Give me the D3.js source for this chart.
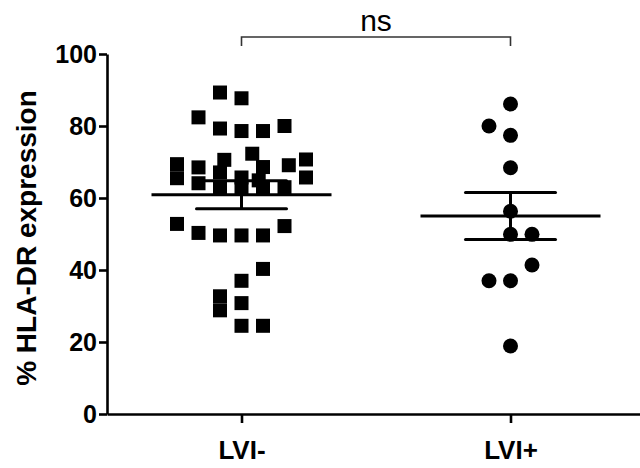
<!DOCTYPE html>
<html>
<head>
<meta charset="utf-8">
<script src="https://cdn.jsdelivr.net/npm/d3@7"></script>
<style>
  body { margin: 0; background: #fff; }
  text { font-family: "Liberation Sans", Arial, sans-serif; }
</style>
</head>
<body>
<div id="graph"></div>
<script>
// data
var groups = ["LVI-", "LVI+"];
var yTicks = [0, 20, 40, 60, 80, 100];

// LVI- values and their horizontal slot in the scatter
var lviNegValues = [89.3, 87.7, 82.4, 79.3, 78.6, 78.6, 80.0,
                    69.4, 65.5, 68.5, 64.1, 70.6, 72.3, 68.6, 69.1, 70.7, 65.7,
                    67.1, 65.7, 64.9, 63.0, 63.0, 63.0, 63.0,
                    52.8, 50.3, 49.6, 49.6, 49.6, 52.2,
                    40.3, 37.0, 32.7, 28.8, 30.8, 24.5, 24.5];
var lviNegSlots  = [-1, 0, -2, -1, 0, 1, 2,
                    -3, -3, -2, -2, -0.8, 0.5, 1, 2.2, 3, 3,
                    -1, 0, 0.8, -1, 0, 1, 2,
                    -3, -2, -1, 0, 1, 2,
                    1, 0, -1, -1, 0, 0, 1];

var lviPosValues = [86.1, 80.0, 77.4, 68.4, 56.3, 49.9, 49.9, 41.4, 37.0, 37.0, 18.9];
var lviPosSlots  = [0, -1, 0, 0, 0, 0, 1, 1, -1, 0, 0];

var groupMeans = [60.9, 55.0];
var groupSems  = [3.9, 6.5];
var sigLabel = "ns";

var margin = { top: 54, left: 107 },
    fullW = 640, fullH = 468,
    height = 360;

var svg = d3.select("#graph")
  .append("svg")
    .attr("width", fullW)
    .attr("height", fullH);

var y = d3.scaleLinear().domain([0, 100]).range([margin.top + height, margin.top]);
var x = d3.scalePoint().domain(groups).range([margin.left, 645]).padding(0.5);
var slotStep = 21.5;

// y axis
var yAxisG = svg.append("g")
  .attr("transform", `translate(${margin.left}, 0)`)
  .call(d3.axisLeft(y).tickValues(yTicks).tickSize(8).tickSizeOuter(0).tickPadding(2));
yAxisG.select(".domain").attr("stroke-width", 2.6);
yAxisG.selectAll(".tick line").attr("stroke-width", 2.6);
yAxisG.selectAll("text")
  .style("font-size", "25px")
  .style("font-weight", "bold")
  .attr("fill", "#000");

// x axis
var xAxisG = svg.append("g")
  .attr("transform", `translate(0, ${y(0)})`)
  .call(d3.axisBottom(x).tickSize(9).tickSizeOuter(0).tickPadding(18));
xAxisG.select(".domain").attr("stroke-width", 2.6);
xAxisG.selectAll(".tick line").attr("stroke-width", 2.6);
xAxisG.selectAll("text")
  .style("font-size", "26px")
  .style("font-weight", "bold")
  .attr("fill", "#000");

// axis title
svg.append("text")
  .attr("text-anchor", "middle")
  .attr("transform", `translate(36, ${(y(0) + y(100)) / 2 + 4}) rotate(-90)`)
  .style("font-size", "28px")
  .style("font-weight", "bold")
  .text("% HLA-DR expression");

// points
var negPts = lviNegValues.map((v, i) => ({ v: v, s: lviNegSlots[i] }));
var posPts = lviPosValues.map((v, i) => ({ v: v, s: lviPosSlots[i] }));
var size = 14;

svg.selectAll(".sq")
  .data(negPts)
  .enter()
  .append("rect")
    .attr("class", "sq")
    .attr("x", d => x("LVI-") + d.s * slotStep - size / 2)
    .attr("y", d => y(d.v) - size / 2)
    .attr("width", size)
    .attr("height", size)
    .attr("fill", "#000");

svg.selectAll(".dot")
  .data(posPts)
  .enter()
  .append("circle")
    .attr("class", "dot")
    .attr("cx", d => x("LVI+") + d.s * slotStep)
    .attr("cy", d => y(d.v))
    .attr("r", 7.5)
    .attr("fill", "#000");

// mean and SEM bars
groups.forEach(function(g, i) {
  var cx = x(g), m = groupMeans[i], s = groupSems[i];
  var bar = svg.append("g").attr("stroke", "#000").attr("stroke-width", 3);
  bar.append("line")
    .attr("x1", cx - 90).attr("x2", cx + 90)
    .attr("y1", y(m)).attr("y2", y(m));
  bar.append("line")
    .attr("x1", cx).attr("x2", cx)
    .attr("y1", y(m + s)).attr("y2", y(m - s));
  [m + s, m - s].forEach(function(v) {
    bar.append("line")
      .attr("x1", cx - 45).attr("x2", cx + 45)
      .attr("y1", y(v)).attr("y2", y(v))
      .attr("stroke-linecap", "round");
  });
});

// significance bracket
var bx1 = x("LVI-"), bx2 = x("LVI+"), by = 37;
svg.append("path")
  .attr("d", `M${bx1},${by + 9}V${by}H${bx2}V${by + 9}`)
  .attr("fill", "none")
  .attr("stroke", "#333")
  .attr("stroke-width", 1.6);

svg.append("text")
  .attr("text-anchor", "middle")
  .attr("x", (bx1 + bx2) / 2)
  .attr("y", 31)
  .style("font-size", "30px")
  .text(sigLabel);
</script>
</body>
</html>
